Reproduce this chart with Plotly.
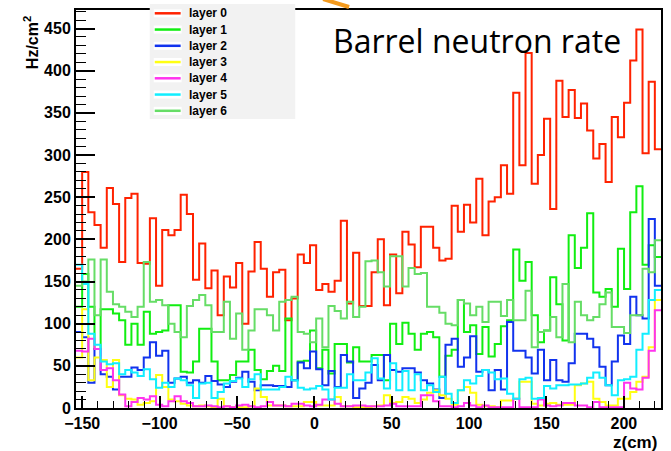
import numpy as np
import plotly.graph_objects as go

# ---------------- data ----------------
XMIN, XMAX, NBINS = -154.0, 224.0, 95

layer0 = [165,280,232,217,190,261,242,173,249,254,172,171,225,145,211,205,211,253,230,152,
          195,142,163,110,156,143,172,100,162,197,165,132,161,164,104,130,182,172,193,140,
          147,138,151,222,124,184,121,121,161,200,122,182,136,209,194,167,215,215,190,175,
          177,240,209,241,220,272,205,245,250,288,254,374,288,421,266,300,343,236,388,345,
          377,344,361,329,296,313,268,345,321,362,412,449,302,387,307]
layer1 = [120,159,120,70,117,117,112,104,75,100,75,114,88,90,92,122,122,43,42,55,
          94,94,55,33,33,39,55,55,69,45,34,44,50,44,106,33,55,56,92,47,
          69,41,76,76,54,72,55,55,63,63,33,100,76,101,88,69,88,90,84,37,
          62,69,128,90,98,64,96,61,76,97,104,188,151,173,110,78,92,155,123,80,
          205,166,190,231,137,132,141,120,189,141,232,263,170,193,179]
layer2 = [90,84,30,70,40,37,22,37,37,48,45,60,78,62,68,30,35,37,30,33,
          30,38,32,28,25,31,36,43,31,21,27,27,26,26,25,33,54,47,67,46,
          27,44,25,63,55,12,23,30,51,33,63,45,43,47,47,42,33,29,22,12,
          75,82,49,60,85,43,45,21,45,22,102,68,68,60,41,69,33,57,33,31,
          53,88,88,82,72,49,27,55,86,76,132,110,106,224,145]
layer3 = [60,117,33,60,57,25,57,15,11,10,4,6,8,39,25,10,8,5,3,2,
          3,2,1,11,2,1,1,1,2,23,13,3,3,3,2,2,2,7,7,3,
          3,3,13,2,2,1,1,1,2,3,15,6,7,13,11,6,10,18,21,15,
          11,4,21,25,18,4,2,2,1,9,9,11,31,31,5,3,5,6,4,4,
          4,27,29,31,11,7,3,3,11,11,19,31,37,72,128]
layer4 = [68,67,82,70,45,47,33,16,2,7,12,10,14,4,2,8,14,8,6,2,
          2,3,2,1,2,1,3,4,2,1,2,7,3,3,2,5,5,3,2,4,
          10,10,5,2,2,3,3,2,2,2,3,5,2,2,2,2,15,15,8,2,
          2,1,2,6,3,1,3,1,1,1,1,11,1,1,1,10,3,2,3,6,
          6,3,3,1,7,1,1,1,1,30,23,22,36,68,116]
layer5 = [170,147,88,75,55,52,53,40,45,42,38,46,34,24,30,25,35,33,27,12,
          29,30,12,19,29,32,35,25,34,40,22,22,22,25,37,33,24,22,23,26,
          22,10,24,24,40,33,33,42,59,35,23,53,21,44,21,40,21,27,19,37,
          17,6,21,33,29,38,45,42,34,35,17,11,34,36,11,12,26,23,27,27,
          28,28,29,36,42,36,27,15,33,34,37,69,88,128,140]
layer6 = [145,150,176,110,176,138,123,120,114,108,120,173,126,128,122,100,90,84,121,128,
          134,122,90,90,126,82,112,69,92,117,117,110,92,126,128,132,90,88,78,106,
          72,121,115,106,126,108,120,174,175,161,144,180,180,144,166,159,160,120,120,113,
          100,98,128,124,110,120,102,126,126,109,128,104,104,139,72,90,92,108,84,147,
          78,126,110,104,108,123,137,96,96,89,110,110,165,161,199]

series_names = ["layer 0", "layer 1", "layer 2", "layer 3", "layer 4", "layer 5", "layer 6"]
series_vals = [layer0, layer1, layer2, layer3, layer4, layer5, layer6]
series_colors = ["#ff2200", "#11ee11", "#1133ee", "#ffff11", "#ff33ee", "#11eeff", "#66dd66"]

x_ticks = [-150, -100, -50, 0, 50, 100, 150, 200]
y_ticks = [0, 50, 100, 150, 200, 250, 300, 350, 400, 450]
YMAX = 472

# ---------------- figure ----------------
W, H = 671, 451
ML, MR, MT, MB = 76, 8, 10, 43
PW, PH = W - ML - MR, H - MT - MB

def px(xp):
    return (xp - ML) / PW

def py(yp):
    return (H - MB - yp) / PH

edges = np.linspace(XMIN, XMAX, NBINS + 1)

fig = go.Figure()
for name, vals, col in zip(series_names, series_vals, series_colors):
    yv = list(vals) + [vals[-1]]
    fig.add_trace(go.Scatter(x=edges, y=yv, mode="lines", name=name,
                             line=dict(color=col, width=2, shape="hv"),
                             showlegend=False, hoverinfo="skip"))

tickfont = dict(family="Liberation Sans", size=16, color="black", weight="bold")
fig.update_layout(
    width=W, height=H,
    margin=dict(l=ML, r=MR, t=MT, b=MB),
    paper_bgcolor="white", plot_bgcolor="white",
    showlegend=False,
    xaxis=dict(range=[XMIN, XMAX], tickvals=x_ticks, ticks="inside", ticklen=12, tickwidth=1.5,
               tickcolor="black", showgrid=False, zeroline=False, showline=True, linecolor="black",
               linewidth=1.5, mirror=True, tickfont=tickfont,
               minor=dict(ticks="inside", ticklen=7, tickwidth=1, dtick=10, tickcolor="black", showgrid=False)),
    yaxis=dict(range=[0, YMAX], tickvals=y_ticks, ticks="inside", ticklen=19, tickwidth=1.5,
               tickcolor="black", showgrid=False, zeroline=False, showline=True, linecolor="black",
               linewidth=2, mirror=True, tickfont=tickfont,
               minor=dict(ticks="inside", ticklen=10, tickwidth=1, dtick=10, tickcolor="black", showgrid=False)),
)

shapes = []
annotations = []

# legend box (drawn manually to match the ROOT TLegend)
LX0, LX1, LY0, LY1 = 150, 296, 4, 119
shapes.append(dict(type="rect", xref="paper", yref="paper", x0=px(LX0), x1=px(LX1), y0=py(LY1), y1=py(LY0),
                   fillcolor="#f2f2f2", line=dict(width=0), layer="above"))
for i, (name, col) in enumerate(zip(series_names, series_colors)):
    yc = 13.3 + 16.25 * i
    shapes.append(dict(type="rect", xref="paper", yref="paper", x0=px(154), x1=px(182),
                       y0=py(yc + 4), y1=py(yc - 4), fillcolor="white", line=dict(width=0), layer="above"))
    shapes.append(dict(type="line", xref="paper", yref="paper", x0=px(155), x1=px(181),
                       y0=py(yc), y1=py(yc), line=dict(color=col, width=2.5), layer="above"))
    annotations.append(dict(text=name, xref="paper", yref="paper", x=px(187), y=py(yc),
                            xanchor="left", yanchor="middle", showarrow=False,
                            font=dict(family="Liberation Sans", size=12, color="black", weight="bold")))

# orange arrow fragment at the top
shapes.append(dict(type="line", xref="paper", yref="paper", x0=px(324), x1=px(350), y0=py(-1), y1=py(7),
                   line=dict(color="#f39a1e", width=4), layer="above"))

annotations.append(dict(text="Barrel neutron rate", xref="paper", yref="paper", x=px(332), y=py(40),
                        xanchor="left", yanchor="middle", showarrow=False,
                        font=dict(family="Open Sans", size=32, color="black")))
annotations.append(dict(text="z(cm)", xref="paper", yref="paper", x=px(661), y=py(442),
                        xanchor="right", yanchor="middle", showarrow=False,
                        font=dict(family="Liberation Sans", size=17, color="black", weight="bold")))
annotations.append(dict(text="Hz/cm<sup>2</sup>", xref="paper", yref="paper", x=px(31), y=py(43),
                        xanchor="center", yanchor="middle", showarrow=False, textangle=-90,
                        font=dict(family="Liberation Sans", size=16, color="black", weight="bold")))

fig.update_layout(shapes=shapes, annotations=annotations)
fig.write_html("out.html")
